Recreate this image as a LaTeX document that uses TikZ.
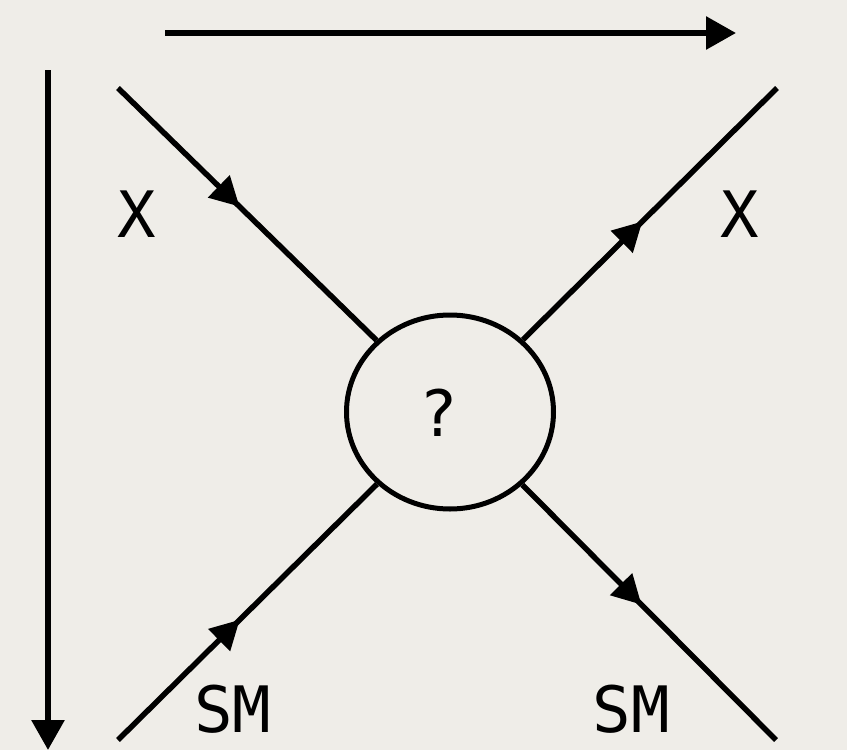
\documentclass[tikz,border=0pt]{standalone}
\usepackage{fontspec}
\setmainfont{DejaVu Sans Mono}
\usetikzlibrary{shapes.geometric,arrows.meta,decorations.markings}
\definecolor{paper}{HTML}{EFEDE8}
\tikzset{
  axisline/.style={line width=6pt,-{Triangle[length=30pt,width=32pt]}},
  legline/.style={line width=5.5pt,postaction={decorate},
    decoration={markings,mark=at position #1 with {\arrow{Triangle[length=29pt,width=30pt]}}}},
  blobshape/.style={ellipse,draw,line width=5pt,minimum width=207pt,minimum height=194pt,inner sep=0pt},
  lbl/.style={font=\fontsize{64}{64}\selectfont,inner sep=0pt}
}
\begin{document}
\begin{tikzpicture}[x=1pt,y=-1pt]
\fill[paper] (0,0) rectangle (847,750);
\useasboundingbox (0,0) rectangle (847,750);
% axes
\coordinate (ta) at (165,33);
\coordinate (tb) at (736,33);
\coordinate (la) at (48,70);
\coordinate (lb) at (48,750);
\draw[axisline] (ta) -- (tb);
\draw[axisline] (la) -- (lb);
% blob
\node[blobshape] (blob) at (450,412) {};
\node[lbl] (q) at (439,413) {?};
% legs
\coordinate (tl) at (118,88);
\coordinate (tr) at (777,88);
\coordinate (bl) at (118,740);
\coordinate (br) at (776,740);
\draw[legline=0.47] (tl) -- (blob);
\draw[legline=0.47] (blob) -- (tr);
\draw[legline=0.47] (bl) -- (blob);
\draw[legline=0.47] (blob) -- (br);
% labels
\node[lbl] (x1) at (137,214) {X};
\node[lbl] (x2) at (740,214) {X};
\node[lbl] (s1) at (233,709) {SM};
\node[lbl] (s2) at (631,709) {SM};
\end{tikzpicture}
\end{document}
